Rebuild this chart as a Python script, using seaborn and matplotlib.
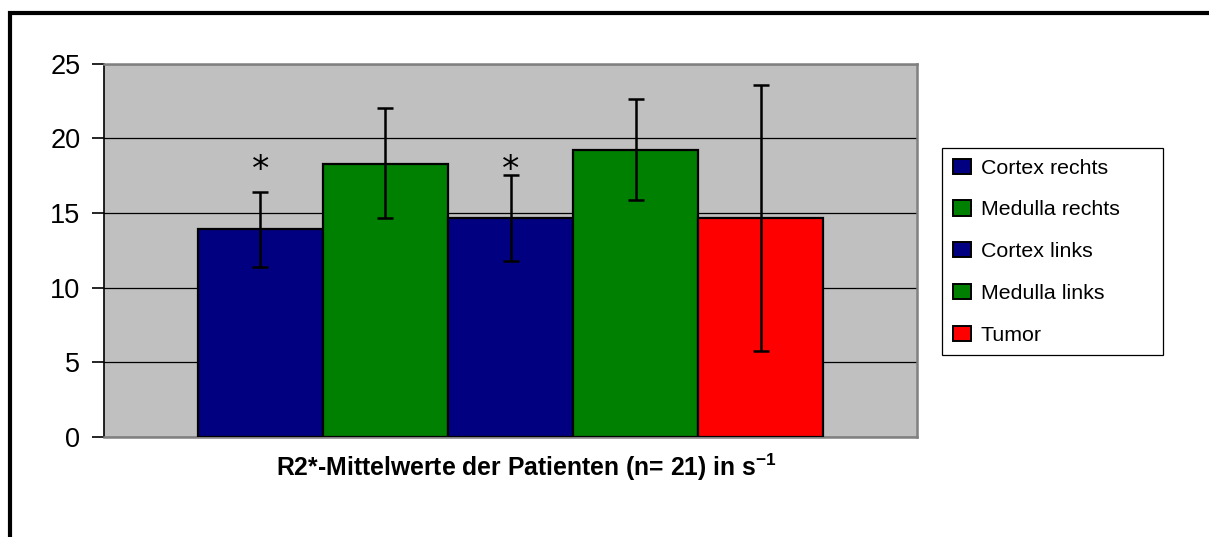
import matplotlib
matplotlib.use("Agg")
import matplotlib.pyplot as plt
from matplotlib.lines import Line2D
import seaborn as sns
import pandas as pd

# ---- data ----
series = ["Cortex rechts", "Medulla rechts", "Cortex links", "Medulla links", "Tumor"]
means = [13.9, 18.3, 14.65, 19.22, 14.65]
err_low = [11.4, 14.65, 11.8, 15.84, 5.78]
err_high = [16.38, 22.0, 17.54, 22.62, 23.54]
colors = ["#000080", "#008000", "#000080", "#008000", "#FF0000"]
starred = ["Cortex rechts", "Cortex links"]
yticks = [0, 5, 10, 15, 20, 25]
xlabel = "R2*-Mittelwerte der Patienten (n= 21) in s$^{\\mathbf{-1}}$"

sns.set_style("white")
plt.rcParams["font.family"] = ["Liberation Sans", "DejaVu Sans"]
plt.rcParams["mathtext.fontset"] = "custom"
plt.rcParams["mathtext.rm"] = "Liberation Sans"
plt.rcParams["mathtext.bf"] = "Liberation Sans:bold"
plt.rcParams["text.color"] = "black"
plt.rcParams["ytick.color"] = "black"
plt.rcParams["ytick.labelcolor"] = "black"

df = pd.DataFrame({"grp": ["R2"] * len(series), "series": series, "value": means})

fig = plt.figure(figsize=(12.09, 5.37), dpi=100)
ax = fig.add_axes([104 / 1209, 1 - 437 / 537, 813 / 1209, 373.5 / 537])

sns.barplot(data=df, x="grp", y="value", hue="series", hue_order=series,
            palette=dict(zip(series, colors)), width=0.769, dodge=True,
            saturation=1, errorbar=None, edgecolor="black", linewidth=1.6,
            ax=ax, zorder=3)

# error bars
for cont, s in zip(ax.containers, series):
    i = series.index(s)
    bar = cont[0]
    xc = bar.get_x() + bar.get_width() / 2
    m = means[i]
    ax.errorbar([xc], [m], yerr=[[m - err_low[i]], [err_high[i] - m]],
                fmt="none", ecolor="black", elinewidth=1.8, capsize=5.6,
                capthick=1.8, zorder=5)
    if s in starred:
        ax.text(xc, 17.9, "*", ha="center", va="center", fontsize=25,
                family="DejaVu Sans", color="black", zorder=6)

ax.set_xlim(-0.5, 0.5)
ax.set_ylim(0, 25)
ax.set_yticks(yticks)
ax.set_yticklabels([str(t) for t in yticks], fontsize=19.5, color="black")
ax.set_xticks([])
ax.set_xlabel("")
ax.set_ylabel("")
ax.set_facecolor("#C0C0C0")
ax.yaxis.grid(True, color="black", linewidth=0.9, zorder=0)
ax.set_axisbelow(True)
for side in ["top", "right", "bottom"]:
    ax.spines[side].set_visible(True)
    ax.spines[side].set_color("#808080")
    ax.spines[side].set_linewidth(1.8)
ax.spines["left"].set_color("black")
ax.spines["left"].set_linewidth(1.2)
ax.tick_params(axis="y", direction="out", length=9, width=1.2, color="black",
               pad=8, left=True)

# legend
handles, labels = ax.get_legend_handles_labels()
if ax.get_legend() is not None:
    ax.get_legend().remove()
leg = ax.legend(handles, labels, loc="upper left",
                bbox_to_anchor=(1.031, 0.774, 0.271, 0.0), mode="expand",
                fontsize=15.4, frameon=True, fancybox=False, framealpha=1,
                edgecolor="black", labelspacing=1.06, handlelength=0.85,
                handleheight=0.72, handletextpad=0.45, borderpad=0.5,
                borderaxespad=0)
leg.get_frame().set_linewidth(0.9)
for t in leg.get_texts():
    t.set_color("black")
for h in leg.legend_handles:
    h.set_edgecolor("black")
    h.set_linewidth(1.4)

# axis title
fig.text(526 / 1209, 1 - 467 / 537, xlabel, ha="center", va="center",
         fontsize=17.8, fontweight="bold", color="black")

# outer frame (partial)
fig.add_artist(Line2D([9.5 / 1209, 9.5 / 1209, 1.02], [-0.02, 1 - 12.5 / 537, 1 - 12.5 / 537],
                      transform=fig.transFigure, color="black", linewidth=3.0,
                      solid_joinstyle="miter"))

fig.savefig("out.png", dpi=100)
